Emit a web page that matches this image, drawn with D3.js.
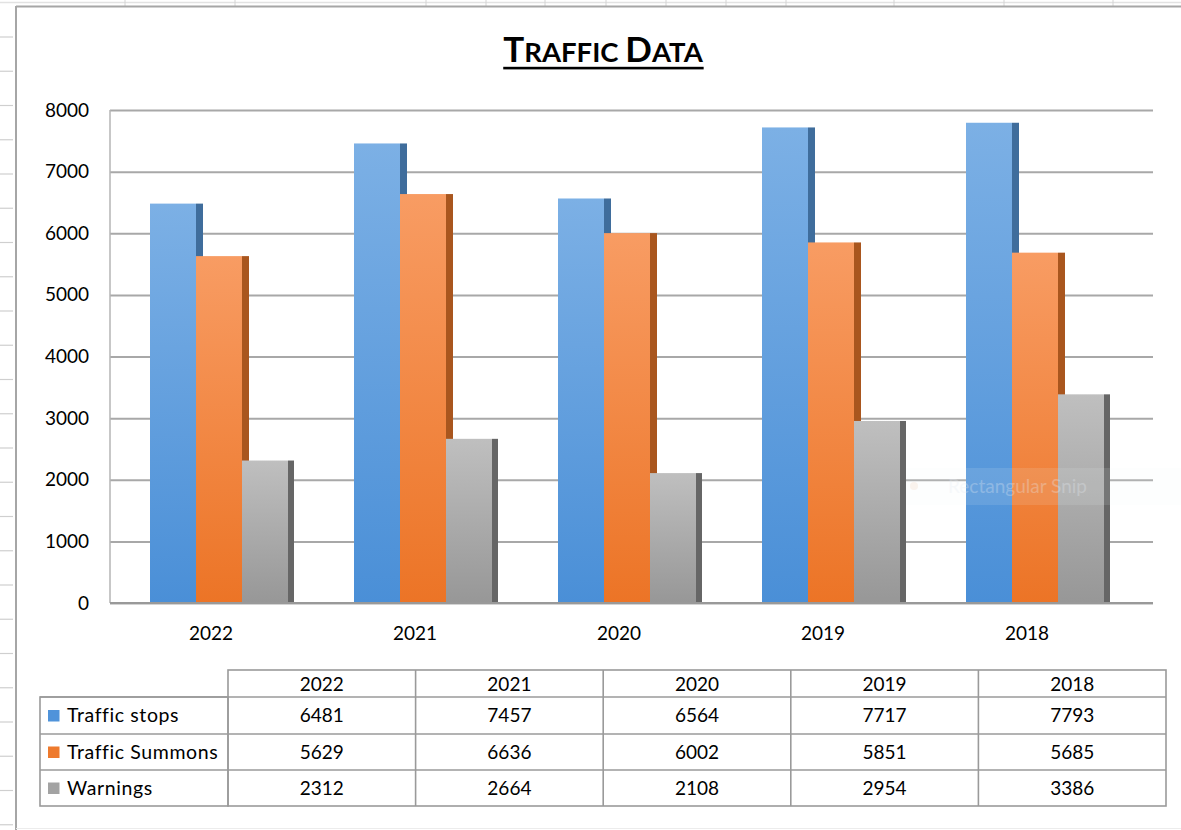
<!DOCTYPE html>
<html>
<head>
<meta charset="utf-8">
<script src="https://cdn.jsdelivr.net/npm/d3@7"></script>
<style>
  html, body { margin: 0; padding: 0; background: #fff; }
  svg { display: block; font-family: Lato, "Open Sans", sans-serif; }
</style>
</head>
<body>
<svg id="chart" width="1181" height="830"></svg>
<script>
// ---- data ----
const categories = ["2022", "2021", "2020", "2019", "2018"];
const seriesNames = ["Traffic stops", "Traffic Summons", "Warnings"];
const trafficStops = [6481, 7457, 6564, 7717, 7793];
const trafficSummons = [5629, 6636, 6002, 5851, 5685];
const warnings = [2312, 2664, 2108, 2954, 3386];
const yTicks = [0, 1000, 2000, 3000, 4000, 5000, 6000, 7000, 8000];
const titleText = "Traffic Data";

const seriesValues = [trafficStops, trafficSummons, warnings];
const seriesStyle = [
  { top: "#7cb0e5", bottom: "#4a8fd7", side: "#3f6d9c", legend: "#4f93da" },
  { top: "#f89c63", bottom: "#ec7426", side: "#a9561e", legend: "#ee7a2d" },
  { top: "#bfbfbf", bottom: "#979797", side: "#666666", legend: "#a3a3a3" }
];

const svg = d3.select("#chart");
const W = 1181, H = 830;

// ---- spreadsheet background ----
const sheet = svg.append("g");
sheet.append("line").attr("x1", 0).attr("x2", W).attr("y1", 2.5).attr("y2", 2.5)
  .attr("stroke", "#e2e2e2").attr("stroke-width", 1.5);
[125, 235, 426, 486, 545, 606, 666, 726, 786, 894, 1004, 1113].forEach(x => {
  sheet.append("line").attr("x1", x).attr("x2", x).attr("y1", 0).attr("y2", 6)
    .attr("stroke", "#d4d4d4").attr("stroke-width", 1);
});
d3.range(37, H, 34.25).forEach(y => {
  sheet.append("line").attr("x1", 0).attr("x2", 13).attr("y1", y).attr("y2", y)
    .attr("stroke", "#cfcfcf").attr("stroke-width", 1.2);
});
// chart border
sheet.append("line").attr("x1", 16).attr("x2", 16).attr("y1", 6).attr("y2", H)
  .attr("stroke", "#a6a6a6").attr("stroke-width", 2);
sheet.append("line").attr("x1", 16).attr("x2", W).attr("y1", 6.5).attr("y2", 6.5)
  .attr("stroke", "#a6a6a6").attr("stroke-width", 2);
sheet.append("line").attr("x1", 16).attr("x2", W).attr("y1", 828.5).attr("y2", 828.5)
  .attr("stroke", "#ececec").attr("stroke-width", 1);

// ---- title ----
const title = svg.append("text").attr("x", 603).attr("y", 61.5)
  .attr("text-anchor", "middle").attr("font-weight", 700).attr("fill", "#000");
titleText.split(" ").forEach((word, wi) => {
  if (wi > 0) title.append("tspan").attr("font-size", 28).text(" ");
  title.append("tspan").attr("font-size", 35).text(word[0].toUpperCase());
  title.append("tspan").attr("font-size", 27.5).text(word.slice(1).toUpperCase());
});
const tb = title.node().getBBox();
svg.append("rect").attr("x", tb.x).attr("y", 66.8).attr("width", tb.width).attr("height", 2.6)
  .attr("fill", "#000");

// ---- scales ----
const plotLeft = 110, plotRight = 1153;
const y = d3.scaleLinear().domain([0, 8000]).range([603, 110]);
const x = d3.scaleBand().domain(categories).range([109, 1129]);
const inner = d3.scaleBand().domain(seriesNames).range([41, 179]);
const depth = 7;

// ---- gridlines + y labels ----
const yAxis = svg.append("g").attr("transform", `translate(${plotLeft},0)`)
  .call(d3.axisLeft(y).tickValues(yTicks).tickSize(-(plotRight - plotLeft)).tickPadding(21)
    .tickFormat(d3.format("d")));
yAxis.select(".domain").remove();
yAxis.selectAll(".tick line").attr("stroke", "#a8a8a8").attr("stroke-width", 2);
yAxis.selectAll(".tick text").attr("font-size", 19).attr("fill", "#000")
  .attr("font-family", "Lato, sans-serif");
// left wall line
svg.append("line").attr("x1", plotLeft).attr("x2", plotLeft).attr("y1", y(8000)).attr("y2", y(0))
  .attr("stroke", "#b4b4b4").attr("stroke-width", 1.5);

// ---- gradients ----
const defs = svg.append("defs");
seriesStyle.forEach((s, i) => {
  const g = defs.append("linearGradient").attr("id", "grad" + i)
    .attr("x1", 0).attr("y1", 0).attr("x2", 0).attr("y2", 1);
  g.append("stop").attr("offset", "0%").attr("stop-color", s.top);
  g.append("stop").attr("offset", "100%").attr("stop-color", s.bottom);
});

// ---- bars ----
const bars = svg.append("g");
categories.forEach((cat, ci) => {
  seriesNames.forEach((sn, si) => {
    const v = seriesValues[si][ci];
    const bx = x(cat) + inner(sn);
    const bw = inner.bandwidth();
    bars.append("rect").attr("x", bx + bw).attr("y", y(v))
      .attr("width", si === 2 ? depth - 1 : depth).attr("height", y(0) - y(v))
      .attr("fill", seriesStyle[si].side);
    bars.append("rect").attr("x", bx).attr("y", y(v))
      .attr("width", bw).attr("height", y(0) - y(v))
      .attr("fill", `url(#grad${si})`);
  });
});

// baseline
svg.append("line").attr("x1", plotLeft).attr("x2", plotRight).attr("y1", y(0)).attr("y2", y(0))
  .attr("stroke", "#999").attr("stroke-width", 2);

// ---- "Rectangular Snip" faint overlay ----
svg.append("rect").attr("x", 906).attr("y", 468).attr("width", W - 906).attr("height", 37)
  .attr("fill", "#eef3fa").attr("opacity", 0.12);
svg.append("circle").attr("cx", 914).attr("cy", 486).attr("r", 4).attr("fill", "#f6d9c8").attr("opacity", 0.3);
svg.append("text").attr("x", 948).attr("y", 493).attr("font-size", 19)
  .attr("fill", "#e6ebf2").attr("opacity", 0.3).text("Rectangular Snip");

// ---- x labels ----
const xAxis = svg.append("g").attr("transform", `translate(0,${y(0)})`)
  .call(d3.axisBottom(x).tickSize(0).tickPadding(24));
xAxis.select(".domain").remove();
xAxis.selectAll(".tick text").attr("font-size", 19).attr("fill", "#000")
  .attr("font-family", "Lato, sans-serif");

// ---- data table ----
const tCol = d3.scaleBand().domain(categories).range([228, 1166]);
const rowTop = [697, 734, 770];
const rowH = [37, 36, 36];
const headTop = 670, headBottom = 697, tableBottom = 806;
const legendLeft = 40;
const tg = svg.append("g");
const lineC = "#9a9a9a";
tg.append("rect").attr("x", 228).attr("y", headTop).attr("width", 1166 - 228)
  .attr("height", tableBottom - headTop).attr("fill", "none").attr("stroke", lineC).attr("stroke-width", 1.6);
tg.append("rect").attr("x", legendLeft).attr("y", headBottom).attr("width", 228 - legendLeft)
  .attr("height", tableBottom - headBottom).attr("fill", "none").attr("stroke", lineC).attr("stroke-width", 1.6);
categories.slice(1).forEach(c => {
  tg.append("line").attr("x1", tCol(c)).attr("x2", tCol(c)).attr("y1", headTop).attr("y2", tableBottom)
    .attr("stroke", lineC).attr("stroke-width", 1.6);
});
[headBottom, rowTop[1], rowTop[2]].forEach(ry => {
  tg.append("line").attr("x1", legendLeft).attr("x2", 1166).attr("y1", ry).attr("y2", ry)
    .attr("stroke", lineC).attr("stroke-width", 1.6);
});
tg.selectAll(".hd").data(categories).join("text")
  .attr("x", d => tCol(d) + tCol.bandwidth() / 2).attr("y", 691)
  .attr("text-anchor", "middle").attr("font-size", 19).attr("fill", "#000").text(d => d);
seriesNames.forEach((sn, si) => {
  const cy = rowTop[si] + rowH[si] / 2;
  tg.append("rect").attr("x", 48).attr("y", cy - 5.5).attr("width", 11.5).attr("height", 11.5)
    .attr("fill", seriesStyle[si].legend);
  tg.append("text").attr("x", 67).attr("y", cy + 6.5).attr("font-size", 19.5)
    .attr("letter-spacing", 0.6).attr("fill", "#000").text(sn);
  tg.selectAll(".v" + si).data(seriesValues[si]).join("text")
    .attr("x", (d, i) => tCol(categories[i]) + tCol.bandwidth() / 2).attr("y", cy + 6.5)
    .attr("text-anchor", "middle").attr("font-size", 19).attr("fill", "#000").text(d => d);
});
</script>
</body>
</html>
